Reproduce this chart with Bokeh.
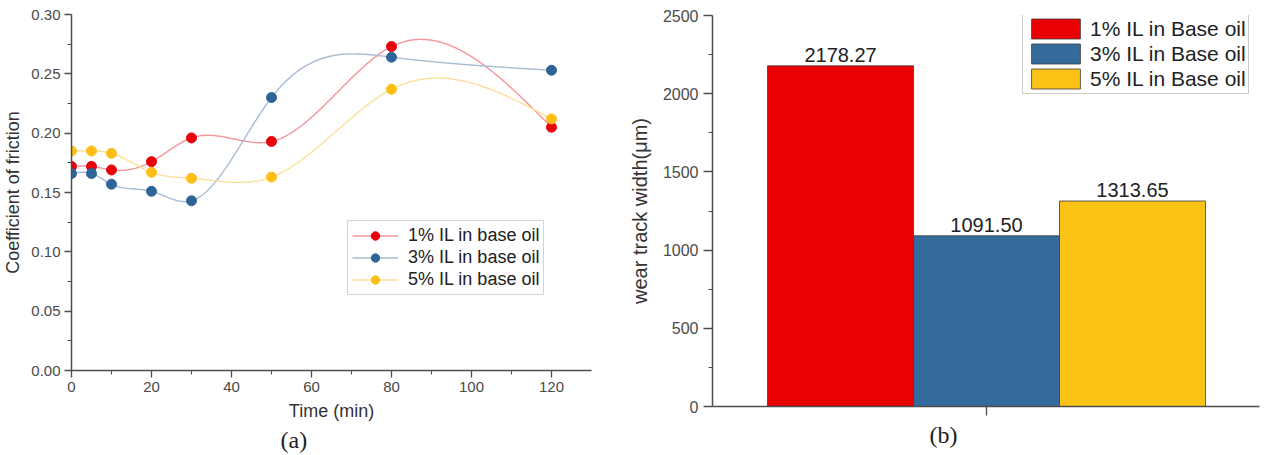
import numpy as np
from bokeh.plotting import figure
from bokeh.layouts import row, column
from bokeh.models import (Range1d, FixedTicker, Legend, LegendItem, Title,
                          NumeralTickFormatter)
from bokeh.core.properties import value
from bokeh.embed import file_html
from bokeh.resources import INLINE

# ---------------- data ----------------
time_min = [0, 5, 10, 20, 30, 50, 80, 120]
cof_1pct = [0.172, 0.172, 0.169, 0.176, 0.196, 0.193, 0.273, 0.205]
cof_3pct = [0.166, 0.166, 0.157, 0.151, 0.143, 0.230, 0.264, 0.253]
cof_5pct = [0.185, 0.185, 0.183, 0.167, 0.162, 0.163, 0.237, 0.212]
cof_series_labels = ["1% IL in base oil", "3% IL in base oil", "5% IL in base oil"]

x_ticks = [0, 20, 40, 60, 80, 100, 120]
x_minor = [10, 30, 50, 70, 90, 110]
y_ticks_cof = [0.0, 0.05, 0.10, 0.15, 0.20, 0.25, 0.30]
y_minor_cof = [0.025, 0.075, 0.125, 0.175, 0.225, 0.275]

wear_labels = ["1% IL in Base oil", "3% IL in Base oil", "5% IL in Base oil"]
wear_pos = [-1, 0, 1]
wear_width = [2178.27, 1091.50, 1313.65]
wear_text = ["2178.27", "1091.50", "1313.65"]
y_ticks_wear = [0, 500, 1000, 1500, 2000, 2500]
y_minor_wear = [250, 750, 1250, 1750, 2250]

captions = ["(a)", "(b)"]

dot_colors = ["#E8000B", "#2F6499", "#FDBE16"]
line_colors = ["#F3959A", "#A7BBD3", "#FCE09A"]
bar_colors = ["#EA0000", "#356A9C", "#FCC317"]

FONT = "Liberation Sans"


def natural_spline(x, y, n=500):
    x = np.asarray(x, float)
    y = np.asarray(y, float)
    k = len(x)
    h = np.diff(x)
    A = np.zeros((k, k))
    r = np.zeros(k)
    A[0, 0] = A[-1, -1] = 1.0
    for i in range(1, k - 1):
        A[i, i - 1] = h[i - 1]
        A[i, i] = 2 * (h[i - 1] + h[i])
        A[i, i + 1] = h[i]
        r[i] = 6 * ((y[i + 1] - y[i]) / h[i] - (y[i] - y[i - 1]) / h[i - 1])
    M = np.linalg.solve(A, r)
    xs = np.linspace(x[0], x[-1], n)
    idx = np.clip(np.searchsorted(x, xs) - 1, 0, k - 2)
    x0 = x[idx]
    x1 = x[idx + 1]
    hh = x1 - x0
    a = (x1 - xs) / hh
    b = (xs - x0) / hh
    ys = a * y[idx] + b * y[idx + 1] + ((a ** 3 - a) * M[idx] + (b ** 3 - b) * M[idx + 1]) * hh ** 2 / 6
    return xs, ys


def style_axes(p, tick_size, label_size):
    for ax in (p.xaxis[0], p.yaxis[0]):
        ax.axis_line_color = "#4d4d4d"
        ax.axis_line_width = 1.5
        ax.major_tick_line_color = "#4d4d4d"
        ax.minor_tick_line_color = "#4d4d4d"
        ax.major_tick_line_width = 1.3
        ax.major_tick_in = 0
        ax.major_tick_out = 7
        ax.minor_tick_in = 0
        ax.minor_tick_out = 4
        ax.major_label_text_font = FONT
        ax.major_label_text_font_size = tick_size
        ax.major_label_text_color = "#4a4a4a"
        ax.axis_label_text_font = FONT
        ax.axis_label_text_font_size = label_size
        ax.axis_label_text_font_style = "normal"
        ax.axis_label_text_color = "#333333"
    p.grid.visible = False
    p.outline_line_color = None


def caption(text, offset, standoff):
    return Title(text=text, align="left", offset=offset, standoff=standoff,
                 text_font="Liberation Serif", text_font_size="24px",
                 text_font_style="normal", text_color="#222222")


# ---------------- (a) friction ----------------
p1 = figure(width=600, height=455, x_range=Range1d(0, 130), y_range=Range1d(0, 0.30),
            output_backend="svg", toolbar_location=None,
            min_border_left=71, min_border_right=9, min_border_top=14, min_border_bottom=85)
style_axes(p1, "15px", "18px")
p1.xaxis.ticker = FixedTicker(ticks=x_ticks, minor_ticks=x_minor)
p1.yaxis.ticker = FixedTicker(ticks=y_ticks_cof, minor_ticks=y_minor_cof)
p1.yaxis.formatter = NumeralTickFormatter(format="0.00")
p1.xaxis.axis_label = "Time (min)"
p1.yaxis.axis_label = "Coefficient of friction"
p1.xaxis.major_label_standoff = 4
p1.yaxis.major_label_standoff = 4
p1.xaxis.axis_label_standoff = 6
p1.yaxis.axis_label_standoff = 5

items = []
for series, dc, lc, lab in zip([cof_1pct, cof_3pct, cof_5pct], dot_colors, line_colors, cof_series_labels):
    xs, ys = natural_spline(time_min, series)
    lr = p1.line(xs, ys, line_color=lc, line_width=1.4)
    sr = p1.scatter(time_min, series, size=10, fill_color=dc, line_color=dc)
    items.append(LegendItem(label=lab, renderers=[lr, sr]))

leg1 = Legend(items=items, location=(276, 75), label_text_font=FONT,
              label_text_font_size="18px", label_text_color="#222222",
              glyph_width=46, glyph_height=21, label_height=21, spacing=1,
              padding=4, margin=0, label_standoff=10,
              border_line_color="#aaaaaa", border_line_width=1,
              background_fill_color="white")
p1.add_layout(leg1, "center")
p1.add_layout(caption(captions[0], 209, 3), "below")

# ---------------- (b) wear ----------------
p2 = figure(width=667, height=455, x_range=Range1d(-1.877, 1.870), y_range=Range1d(0, 2500),
            output_backend="svg", toolbar_location=None,
            min_border_left=112, min_border_right=8, min_border_top=15, min_border_bottom=49)
style_axes(p2, "16px", "20px")
p2.xaxis.ticker = FixedTicker(ticks=[0], minor_ticks=[])
p2.xaxis.major_label_overrides = {0: ""}
p2.xaxis.major_tick_out = 9
p2.xaxis.major_label_standoff = 4
p2.yaxis.ticker = FixedTicker(ticks=y_ticks_wear, minor_ticks=y_minor_wear)
p2.yaxis.major_tick_out = 9
p2.yaxis.major_label_standoff = 5
p2.yaxis.axis_label = "wear track width(\u03bcm)"
p2.yaxis.axis_label_standoff = 9

bar_items = []
for xp, w, c, lab in zip(wear_pos, wear_width, bar_colors, wear_labels):
    r = p2.vbar(x=[xp], top=[w], width=1.0, bottom=0, fill_color=c,
                line_color="#3a3a3a", line_width=0.8)
    bar_items.append(LegendItem(label=lab, renderers=[r]))

p2.text(x=wear_pos, y=wear_width, text=wear_text, text_align="center",
        text_baseline="bottom", y_offset=-4, text_font=value(FONT),
        text_font_size="20px", text_color="#222222")

leg2 = Legend(items=bar_items, location=(310, 312), label_text_font=FONT,
              label_text_font_size="21px", label_text_color="#222222",
              glyph_width=61, glyph_height=25, label_height=25, spacing=0,
              padding=2, margin=0, label_standoff=4,
              border_line_color="#999999", border_line_width=1,
              background_fill_color="white")
p2.add_layout(leg2, "center")
p2.add_layout(caption(captions[1], 217, 8), "below")

layout = row(column(p1), column(p2))
open("out.html", "w").write(file_html(layout, INLINE))
